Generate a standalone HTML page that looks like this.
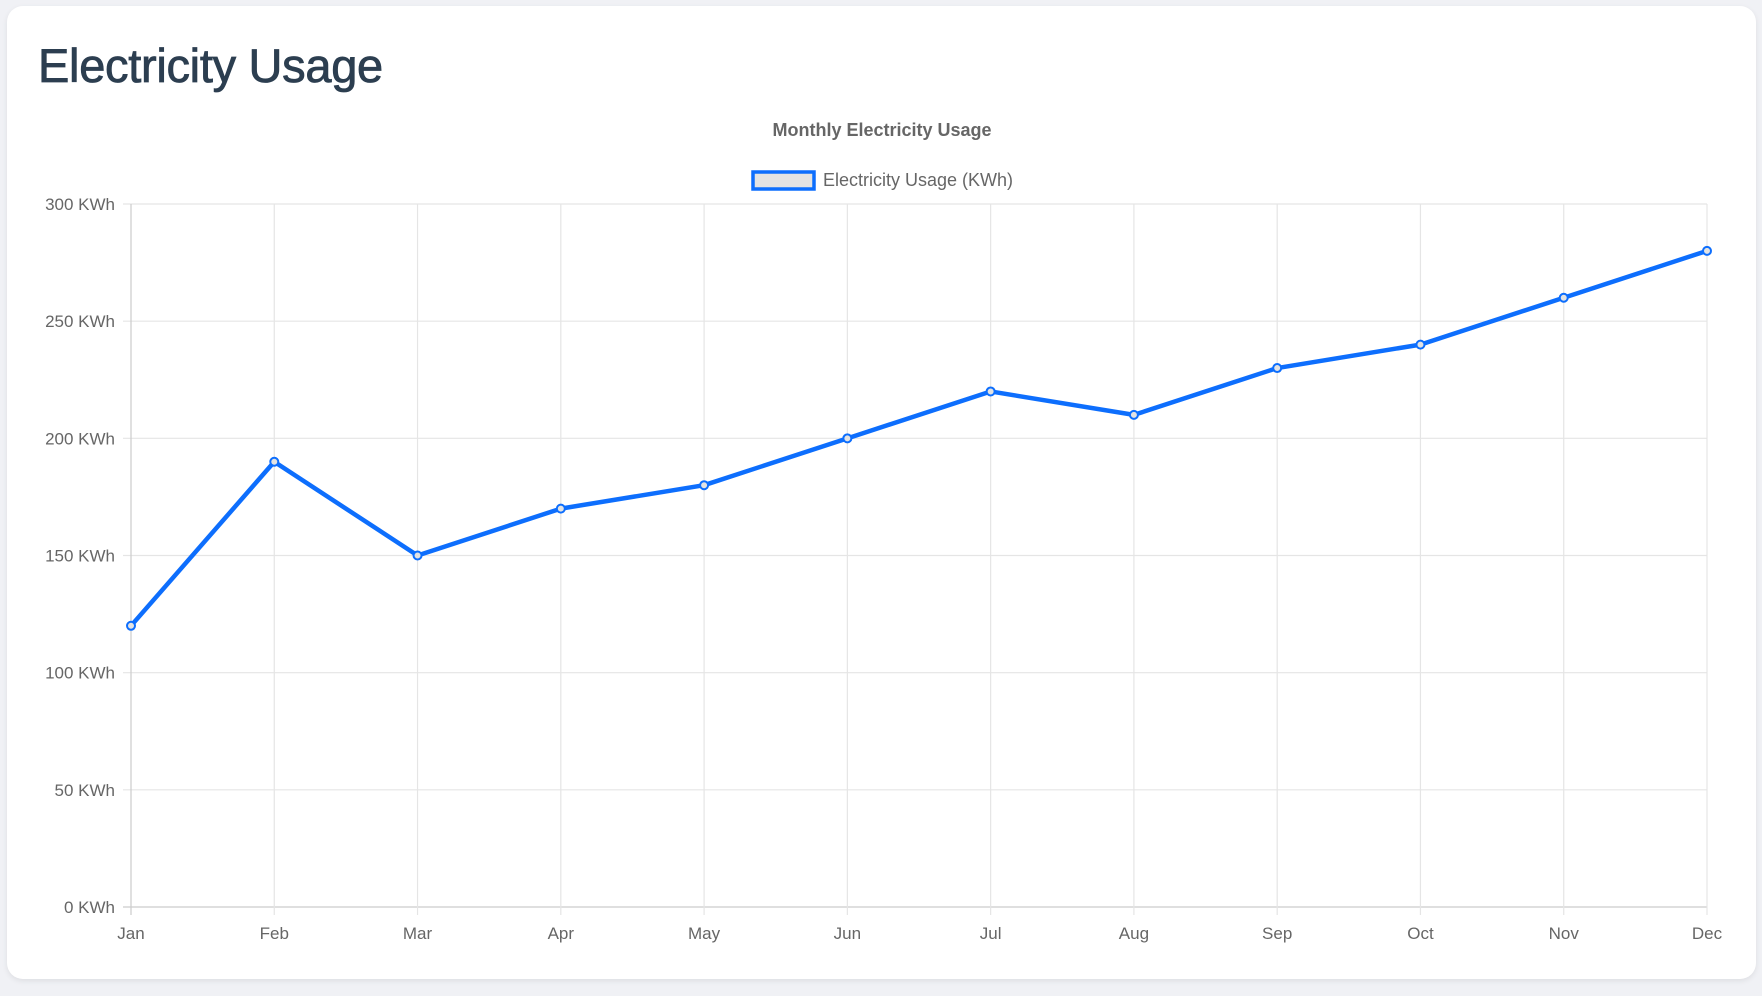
<!DOCTYPE html>
<html><head><meta charset="utf-8"><style>
body{margin:0;width:1762px;height:996px;background:#f0f1f5;font-family:"Liberation Sans",sans-serif;overflow:hidden;position:relative}
.card{position:absolute;left:7px;top:6px;width:1749px;height:973px;background:#fff;border-radius:16px;box-shadow:0 2px 6px rgba(0,0,0,.08)}
h1{position:absolute;left:38px;top:38px;margin:0;font-size:47px;font-weight:normal;color:#2c3e50;font-family:"Liberation Sans",sans-serif;-webkit-text-stroke:0.8px #2c3e50;letter-spacing:-0.3px}
svg{position:absolute;left:0;top:0}
</style></head><body>
<div class="card"></div>
<h1>Electricity Usage</h1>
<svg width="1762" height="996" id="chart" font-family="Liberation Sans, sans-serif">
<text x="882" y="136" text-anchor="middle" font-size="18" font-weight="bold" fill="#666">Monthly Electricity Usage</text>
<g>
<rect x="753" y="172" width="61" height="17" fill="#e3e3e3" stroke="#0d6efd" stroke-width="3.5"/>
<text x="823" y="186" font-size="18" fill="#666">Electricity Usage (KWh)</text>
</g>
<g id="grid"></g><g id="plot"></g>
</svg>
<script>
const categories=["Jan","Feb","Mar","Apr","May","Jun","Jul","Aug","Sep","Oct","Nov","Dec"];
const usage=[120,190,150,170,180,200,220,210,230,240,260,280];
const yTicks=[0,50,100,150,200,250,300];
const yTickLabels=["0 KWh","50 KWh","100 KWh","150 KWh","200 KWh","250 KWh","300 KWh"];
const L=131,R=1707,T=204,B=907;
const xs=i=>L+(R-L)*i/(categories.length-1);
const ys=v=>B-(B-T)*v/300;
const ns="http://www.w3.org/2000/svg";
const g=document.getElementById('grid'),p=document.getElementById('plot');
function mk(tag,attrs,parent){const e=document.createElementNS(ns,tag);for(const k in attrs)e.setAttribute(k,attrs[k]);parent.appendChild(e);return e;}
yTicks.forEach((v,i)=>{
const y=ys(v);
const ln=mk('line',{x1:L-8,x2:R,y1:y,y2:y,stroke:v===0?'#ccc':'#e5e5e5','stroke-width':1.2},g);


const t=mk('text',{x:L-16,y:y+6,'text-anchor':'end','font-size':17,fill:'#666'},g);
t.textContent=yTickLabels[i];


});
categories.forEach((c,i)=>{
const x=xs(i);
const ln=mk('line',{x1:x,x2:x,y1:T,y2:B+8,stroke:i===0?'#ccc':'#e5e5e5','stroke-width':1.2},g);


const t=mk('text',{x:x,y:939,'text-anchor':'middle','font-size':17,fill:'#666'},g);
t.textContent=c;


});
const path=mk('polyline',{points:usage.map((v,i)=>xs(i)+','+ys(v)).join(' '),fill:'none',stroke:'#0d6efd','stroke-width':4.5,'stroke-linejoin':'round'},p);


usage.forEach((v,i)=>{
const c=mk('circle',{cx:xs(i),cy:ys(v),r:4,fill:'#e3e3e3',stroke:'#0d6efd','stroke-width':2},p);


});
</script>
</body></html>
